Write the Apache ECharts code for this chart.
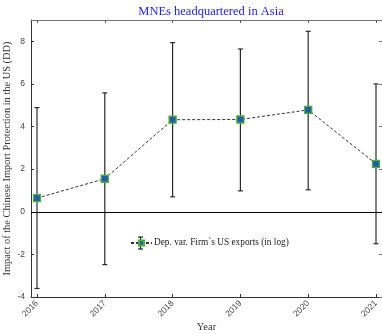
<!DOCTYPE html>
<html>
<head>
<meta charset="utf-8">
<style>
  html, body { margin: 0; padding: 0; background: #fff; }
  #chart { width: 382px; height: 334px; }
</style>
<script src="https://cdn.jsdelivr.net/npm/echarts@6/dist/echarts.min.js"></script>
</head>
<body>
<div id="chart"></div>
<script>
// Years on the horizontal axis
const years = [2016, 2017, 2018, 2019, 2020, 2021];
// Point estimates of the DD coefficient
const estimates = [0.64, 1.55, 4.32, 4.33, 4.78, 2.25];
// Lower and upper ends of the confidence intervals
const ciLow = [-3.6, -2.48, 0.70, 0.98, 1.03, -1.5];
const ciHigh = [4.89, 5.58, 7.94, 7.64, 8.47, 6.0];
// Tick labels
const yTicks = [-4, -2, 0, 2, 4, 6, 8];

const chart = echarts.init(document.getElementById('chart'), null, { renderer: 'canvas' });

const serif = '"Liberation Serif", "DejaVu Serif", serif';
const sans = '"Liberation Sans", Arial, sans-serif';

const pointData = years.map((y, i) => [y, estimates[i]]);
const barData = years.map((y, i) => [y, ciLow[i], ciHigh[i]]);

const seriesName = 'Dep. var. Firm`s US exports (in log)';

// Legend placement; the error-bar glyph is drawn behind the legend marker
const legendLeft = 130;
const legendTop = 237;
const legendIconW = 21;
const legendLine = 12;

const option = {
  animation: false,
  title: {
    text: 'MNEs headquartered in Asia',
    left: 206,
    top: 0,
    textAlign: 'center',
    textStyle: { fontFamily: serif, fontSize: 12.5, fontWeight: 'normal', color: '#2222ff' }
  },
  legend: {
    left: legendLeft,
    top: legendTop,
    padding: 0,
    itemWidth: legendIconW,
    itemHeight: 6.5,
    itemGap: 2,
    z: 5,
    data: [seriesName],
    textStyle: { fontFamily: serif, fontSize: 9.3, color: '#222', lineHeight: legendLine, padding: [0, 0, 0, -3] }
  },
  graphic: [
    {
      type: 'group',
      x: legendLeft + legendIconW / 2,
      y: legendTop + legendLine / 2,
      z: 4,
      children: [
        { type: 'line', shape: { x1: 0, y1: -6, x2: 0, y2: 6 }, style: { stroke: '#222', lineWidth: 1.2 } },
        { type: 'line', shape: { x1: -2.5, y1: -6, x2: 2.5, y2: -6 }, style: { stroke: '#222', lineWidth: 1.2 } },
        { type: 'line', shape: { x1: -2.5, y1: 6, x2: 2.5, y2: 6 }, style: { stroke: '#222', lineWidth: 1.2 } }
      ]
    }
  ],
  grid: { left: 31, top: 20, right: 0, bottom: 37, containLabel: false, outerBoundsMode: 'none' },
  xAxis: [
    {
      type: 'value',
      min: 2015.9115,
      max: 2021.0885,
      name: 'Year',
      nameLocation: 'middle',
      nameGap: 25,
      nameMoveOverlap: false,
      nameTextStyle: { fontFamily: serif, fontSize: 10.5, color: '#333' },
      axisLine: { onZero: false, lineStyle: { color: '#333', width: 1 } },
      axisTick: { inside: true, length: 3, customValues: years, lineStyle: { color: '#333' } },
      axisLabel: {
        customValues: years,
        rotate: 45,
        fontFamily: sans,
        fontSize: 8.5,
        color: '#444',
        margin: 5,
        formatter: v => String(Math.round(v))
      },
      splitLine: { show: false }
    },
    {
      type: 'value',
      position: 'top',
      min: 2015.9115,
      max: 2021.0885,
      axisLine: { onZero: false, lineStyle: { color: '#777', width: 1 } },
      axisTick: { inside: true, length: 3, customValues: years, lineStyle: { color: '#555' } },
      axisLabel: { show: false },
      splitLine: { show: false }
    }
  ],
  yAxis: [
    {
      type: 'value',
      min: -4,
      max: 9,
      name: 'Impact of the Chinese Import Protection in the US (DD)',
      nameLocation: 'middle',
      nameGap: 19,
      nameMoveOverlap: false,
      nameTextStyle: { fontFamily: serif, fontSize: 10.4, color: '#333' },
      axisLine: { show: true, onZero: false, lineStyle: { color: '#333', width: 1 } },
      axisTick: { inside: true, length: 3, customValues: yTicks, lineStyle: { color: '#333' } },
      axisLabel: { customValues: yTicks, fontFamily: sans, fontSize: 8.5, color: '#444', margin: 6 },
      splitLine: { show: false }
    },
    {
      type: 'value',
      position: 'right',
      min: -4,
      max: 9,
      axisLine: { show: true, onZero: false, lineStyle: { color: '#777', width: 1 } },
      axisTick: { inside: true, length: 3, customValues: yTicks, lineStyle: { color: '#777' } },
      axisLabel: { show: false },
      splitLine: { show: false }
    }
  ],
  series: [
    {
      name: 'ci',
      type: 'custom',
      xAxisIndex: 0,
      yAxisIndex: 0,
      data: barData,
      z: 2,
      renderItem: function (params, api) {
        const x = api.value(0);
        const lo = api.coord([x, api.value(1)]);
        const hi = api.coord([x, api.value(2)]);
        const cap = 2.5;
        const style = { stroke: '#2a2a2a', lineWidth: 1.2 };
        return {
          type: 'group',
          children: [
            { type: 'line', shape: { x1: lo[0], y1: lo[1], x2: hi[0], y2: hi[1] }, style },
            { type: 'line', shape: { x1: hi[0] - cap, y1: hi[1], x2: hi[0] + cap, y2: hi[1] }, style },
            { type: 'line', shape: { x1: lo[0] - cap, y1: lo[1], x2: lo[0] + cap, y2: lo[1] }, style }
          ]
        };
      }
    },
    {
      name: seriesName,
      type: 'line',
      xAxisIndex: 0,
      yAxisIndex: 0,
      data: pointData,
      z: 3,
      symbol: 'rect',
      symbolSize: 7,
      lineStyle: { color: '#333', width: 1, type: [3, 2] },
      itemStyle: { color: '#1f5fae', borderColor: '#4caf3a', borderWidth: 1.3 },
      markLine: {
        silent: true,
        symbol: 'none',
        label: { show: false },
        lineStyle: { color: '#000', width: 1, type: 'solid' },
        data: [{ yAxis: 0 }]
      }
    }
  ]
};

chart.setOption(option);
</script>
</body>
</html>
